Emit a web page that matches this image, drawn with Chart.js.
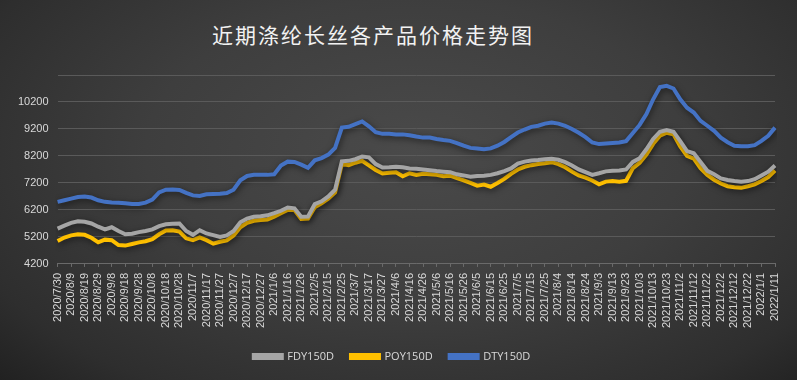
<!DOCTYPE html>
<html>
<head>
<meta charset="utf-8">
<script src="https://cdn.jsdelivr.net/npm/chart.js@4"></script>
<style>
  html, body { margin: 0; padding: 0; }
  body {
    width: 797px; height: 380px; overflow: hidden; position: relative;
    background: radial-gradient(ellipse 75% 90% at 52% 40%, #4a4a4a 0%, #3e3e3e 45%, #2e2e2e 80%, #1e1e1e 100%);
  }
  #title {
    position: absolute; left: 0; top: 19px; width: 746px; text-align: center;
    font-family: "Noto Sans CJK SC", sans-serif; font-size: 21px; letter-spacing: 2px;
    color: #f2f2f2;
  }
  #wrap { position: absolute; left: 0; top: 0; width: 797px; height: 380px; }
</style>
</head>
<body>
<div id="title">近期涤纶长丝各产品价格走势图</div>
<div id="wrap"><canvas id="priceChart"></canvas></div>
<script>
// dates every 5 days, label shown every other one
const dates = [
  "2020/7/30","2020/8/4","2020/8/9","2020/8/14","2020/8/19","2020/8/24","2020/8/29","2020/9/3","2020/9/8","2020/9/13",
  "2020/9/18","2020/9/23","2020/9/28","2020/10/3","2020/10/8","2020/10/13","2020/10/18","2020/10/23","2020/10/28","2020/11/2",
  "2020/11/7","2020/11/12","2020/11/17","2020/11/22","2020/11/27","2020/12/2","2020/12/7","2020/12/12","2020/12/17","2020/12/22",
  "2020/12/27","2021/1/1","2021/1/6","2021/1/11","2021/1/16","2021/1/21","2021/1/26","2021/1/31","2021/2/5","2021/2/10",
  "2021/2/15","2021/2/20","2021/2/25","2021/3/2","2021/3/7","2021/3/12","2021/3/17","2021/3/22","2021/3/27","2021/4/1",
  "2021/4/6","2021/4/11","2021/4/16","2021/4/21","2021/4/26","2021/5/1","2021/5/6","2021/5/11","2021/5/16","2021/5/21",
  "2021/5/26","2021/5/31","2021/6/5","2021/6/10","2021/6/15","2021/6/20","2021/6/25","2021/6/30","2021/7/5","2021/7/10",
  "2021/7/15","2021/7/20","2021/7/25","2021/7/30","2021/8/4","2021/8/9","2021/8/14","2021/8/19","2021/8/24","2021/8/29",
  "2021/9/3","2021/9/8","2021/9/13","2021/9/18","2021/9/23","2021/9/28","2021/10/3","2021/10/8","2021/10/13","2021/10/18",
  "2021/10/23","2021/10/28","2021/11/2","2021/11/7","2021/11/12","2021/11/17","2021/11/22","2021/11/27","2021/12/2","2021/12/7",
  "2021/12/12","2021/12/17","2021/12/22","2021/12/27","2022/1/1","2022/1/6","2022/1/11"
];

const fdy = [
  5510,5620,5720,5780,5760,5700,5580,5480,5560,5420,
  5300,5320,5380,5420,5480,5600,5670,5690,5700,5420,
  5280,5450,5330,5270,5200,5260,5420,5740,5880,5950,
  5970,6000,6080,6170,6290,6260,5950,5960,6420,6520,
  6700,6950,8000,8020,8080,8180,8150,7900,7770,7780,
  7800,7780,7740,7730,7700,7670,7640,7620,7600,7520,
  7480,7430,7460,7470,7500,7560,7640,7740,7920,7990,
  8030,8050,8080,8100,8060,7970,7850,7700,7600,7500,
  7560,7630,7650,7660,7700,7980,8120,8450,8830,9100,
  9160,9100,8750,8380,8300,7980,7650,7520,7370,7310,
  7270,7250,7270,7340,7480,7620,7850
];

const poy = [
  5050,5180,5260,5300,5280,5170,5000,5100,5080,4900,
  4880,4940,5000,5040,5120,5300,5440,5450,5400,5150,
  5080,5180,5080,4950,5020,5070,5250,5560,5720,5800,
  5830,5850,5950,6080,6200,6200,5870,5880,6300,6450,
  6620,6850,7900,7860,7950,8020,7850,7680,7550,7580,
  7600,7450,7560,7500,7540,7520,7500,7450,7470,7380,
  7300,7200,7100,7140,7060,7200,7350,7540,7700,7800,
  7860,7900,7930,7970,7900,7780,7620,7480,7400,7290,
  7150,7250,7270,7250,7280,7750,7950,8250,8650,8950,
  9060,9000,8550,8200,8100,7750,7500,7320,7180,7080,
  7040,7020,7080,7150,7270,7420,7660
];

const dty = [
  6500,6560,6620,6680,6700,6660,6560,6500,6480,6470,
  6450,6420,6420,6470,6580,6850,6950,6960,6940,6830,
  6740,6720,6780,6790,6800,6830,6950,7300,7460,7500,
  7500,7500,7520,7850,7990,7980,7880,7760,8040,8120,
  8250,8500,9250,9280,9380,9480,9300,9080,9020,9020,
  9000,9000,8970,8920,8880,8880,8830,8790,8760,8680,
  8580,8500,8480,8450,8480,8580,8720,8900,9070,9180,
  9280,9320,9400,9440,9400,9320,9200,9060,8900,8700,
  8640,8660,8680,8700,8750,9050,9350,9750,10300,10750,
  10800,10700,10300,9990,9810,9500,9320,9130,8880,8710,
  8580,8560,8560,8600,8760,8950,9250
];

const seriesNames = ["FDY150D", "POY150D", "DTY150D"];
const seriesColors = ["#a5a5a5", "#ffc000", "#4472c4"];

// soft glow under each line
const glowPlugin = {
  id: "glow",
  beforeDatasetDraw(chart, args) {
    const ctx = chart.ctx;
    ctx.save();
    ctx.shadowColor = "rgba(0,0,0,0.55)";
    ctx.shadowBlur = 6;
    ctx.shadowOffsetX = 1;
    ctx.shadowOffsetY = 2;
  },
  afterDatasetDraw(chart) {
    chart.ctx.restore();
  }
};

const ctx = document.getElementById("priceChart").getContext("2d");
new Chart(ctx, {
  type: "line",
  data: {
    labels: dates,
    datasets: [fdy, poy, dty].map((vals, i) => ({
      label: seriesNames[i],
      data: vals,
      borderColor: seriesColors[i],
      backgroundColor: seriesColors[i],
      borderWidth: 4,
      pointRadius: 0,
      tension: 0,
      fill: false
    }))
  },
  options: {
    responsive: true,
    maintainAspectRatio: false,
    animation: false,
    layout: { padding: { left: 9, right: 22, top: 75, bottom: 8 } },
    plugins: {
      title: { display: false },
      tooltip: { enabled: false },
      legend: {
        position: "bottom",
        labels: {
          color: "#d9d9d9",
          boxWidth: 28,
          boxHeight: 3,
          padding: 17,
          font: { family: "'Open Sans', 'DejaVu Sans', sans-serif", size: 11 }
        }
      }
    },
    scales: {
      x: {
        offset: false,
        grid: { display: true, drawOnChartArea: false, color: "#6a6a6a", tickLength: 3 },
        border: { color: "#6a6a6a" },
        ticks: {
          autoSkip: false,
          maxRotation: 90,
          minRotation: 90,
          padding: 6,
          color: "#d9d9d9",
          font: { family: "'Liberation Sans', sans-serif", size: 11 },
          callback: function (val, idx) {
            return idx % 2 === 0 ? this.getLabelForValue(val) : null;
          }
        }
      },
      y: {
        min: 4200,
        max: 11200,
        grid: { color: "#5a5a5a", drawTicks: false },
        border: { display: false },
        ticks: {
          stepSize: 1000,
          padding: 9,
          color: "#d9d9d9",
          font: { family: "'Liberation Sans', sans-serif", size: 11 },
          callback: v => (v === 11200 ? "" : v)
        }
      }
    }
  },
  plugins: [glowPlugin]
});
</script>
</body>
</html>
